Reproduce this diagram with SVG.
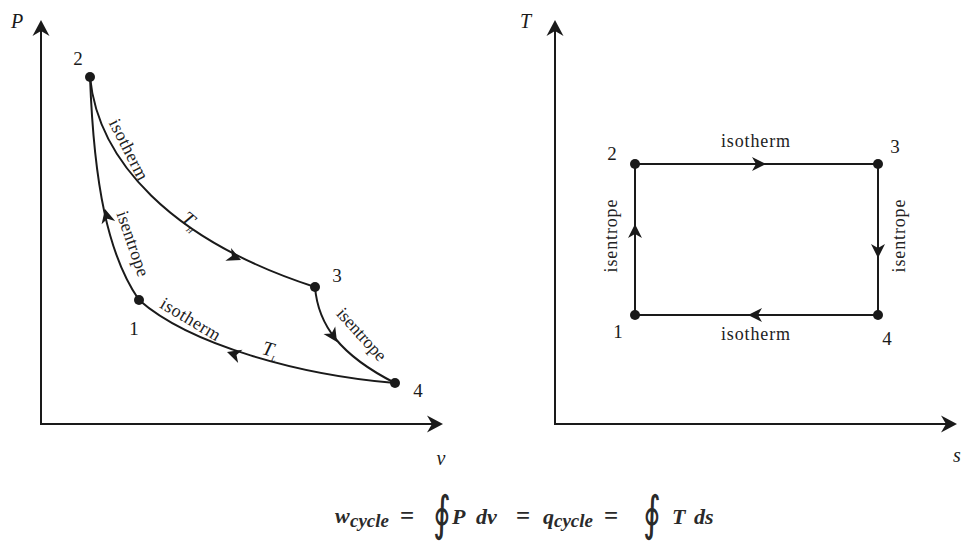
<svg xmlns="http://www.w3.org/2000/svg" width="964" height="544" viewBox="0 0 964 544">
<style>
.ax{fill:none;stroke:#1a1a1a;stroke-width:2}
.cv{fill:none;stroke:#1a1a1a;stroke-width:2}
.dot{fill:#1a1a1a}
.ah{fill:#1a1a1a}
text{font-family:"Liberation Serif","Times New Roman",serif}
.lbl{font-size:19px;fill:#1a1a1a}
.sm{font-size:18px;fill:#222}
.it{font-style:italic;font-size:20px;fill:#1a1a1a}
.eq{font-style:italic;font-weight:bold;fill:#2a2a2a}
.op{font-style:normal;font-size:25px}
.sub{font-size:19px}
.int{font-family:"DejaVu Serif",serif;font-size:34px;fill:#2a2a2a}
</style>
<defs>
<path id="axh" d="M0,0 L-16,-8.5 L-11,0 L-16,8.5 Z"/>
<path id="cah" d="M0,0 L-14,-7 L-10,0 L-14,7 Z"/>
</defs>

<g id="axes">
<line class="ax" x1="41" y1="424" x2="41" y2="26"/>
<line class="ax" x1="40" y1="424" x2="437" y2="424"/>
<use href="#axh" class="ah" transform="translate(41,20) rotate(-90)"/>
<use href="#axh" class="ah" transform="translate(443,424)"/>
<line class="ax" x1="555" y1="424" x2="555" y2="26"/>
<line class="ax" x1="554" y1="424" x2="951" y2="424"/>
<use href="#axh" class="ah" transform="translate(555,20) rotate(-90)"/>
<use href="#axh" class="ah" transform="translate(957,424)"/>
<text class="it" x="11" y="28">P</text>
<text class="it" x="441" y="465" text-anchor="middle">v</text>
<text class="it" x="520" y="28">T</text>
<text class="it" x="953" y="462">s</text>
</g>

<g id="connectors">
<path id="c23" class="cv" d="M90,77 C98,160 170,240 315,287"/>
<path id="c12" class="cv" d="M90,77 C94,185 108,255 139,300"/>
<path id="c34" class="cv" d="M315,287 C318,325 340,355 395,383"/>
<path id="c41" class="cv" d="M395,383 C300,375 190,345 139,300"/>
<use href="#cah" class="ah" transform="translate(241,260) rotate(24)"/>
<use href="#cah" class="ah" transform="translate(105,209) rotate(-104)"/>
<use href="#cah" class="ah" transform="translate(337,342) rotate(57)"/>
<use href="#cah" class="ah" transform="translate(227,352) rotate(198)"/>

<line class="cv" x1="635" y1="164" x2="878" y2="164"/>
<line class="cv" x1="878" y1="164" x2="878" y2="315"/>
<line class="cv" x1="878" y1="315" x2="635" y2="315"/>
<line class="cv" x1="635" y1="315" x2="635" y2="164"/>
<use href="#cah" class="ah" transform="translate(766,164)"/>
<use href="#cah" class="ah" transform="translate(878,258) rotate(90)"/>
<use href="#cah" class="ah" transform="translate(748,315) rotate(180)"/>
<use href="#cah" class="ah" transform="translate(635,224) rotate(-90)"/>
</g>

<g id="edge-labels">
<text class="sm" text-anchor="middle" textLength="66" transform="translate(128,150) rotate(63)" y="5">isotherm</text>
<text class="it" text-anchor="middle" transform="translate(190,221) rotate(40)" y="6" font-size="19">T<tspan font-size="8" dy="4">H</tspan></text>
<text class="sm" text-anchor="middle" textLength="68" transform="translate(132,244) rotate(71)" y="5">isentrope</text>
<text class="sm" text-anchor="middle" textLength="67" transform="translate(190,320) rotate(31)" y="5">isotherm</text>
<text class="it" text-anchor="middle" transform="translate(270,350) rotate(15)" y="6" font-size="19">T<tspan font-size="8" dy="4">L</tspan></text>
<text class="sm" text-anchor="middle" textLength="65" transform="translate(361,335) rotate(48)" y="5">isentrope</text>

<text class="sm" x="755.5" y="147" text-anchor="middle" textLength="69">isotherm</text>
<text class="sm" x="755.5" y="340" text-anchor="middle" textLength="69">isotherm</text>
<text class="sm" text-anchor="middle" textLength="73" transform="translate(612,236) rotate(-90)" y="5">isentrope</text>
<text class="sm" text-anchor="middle" textLength="73" transform="translate(900,236) rotate(-90)" y="5">isentrope</text>
</g>

<g id="pv-node-1"><circle class="dot" cx="139" cy="300" r="5"/><text class="lbl" x="134" y="335" text-anchor="middle">1</text></g>
<g id="pv-node-2"><circle class="dot" cx="90" cy="77" r="5"/><text class="lbl" x="78" y="65" text-anchor="middle">2</text></g>
<g id="pv-node-3"><circle class="dot" cx="315" cy="287" r="5"/><text class="lbl" x="337" y="282" text-anchor="middle">3</text></g>
<g id="pv-node-4"><circle class="dot" cx="395" cy="383" r="5"/><text class="lbl" x="418" y="397" text-anchor="middle">4</text></g>

<g id="ts-node-1"><circle class="dot" cx="635" cy="315" r="5"/><text class="lbl" x="618" y="338" text-anchor="middle">1</text></g>
<g id="ts-node-2"><circle class="dot" cx="635" cy="164" r="5"/><text class="lbl" x="612" y="160" text-anchor="middle">2</text></g>
<g id="ts-node-3"><circle class="dot" cx="878" cy="164" r="5"/><text class="lbl" x="895" y="153" text-anchor="middle">3</text></g>
<g id="ts-node-4"><circle class="dot" cx="878" cy="315" r="5"/><text class="lbl" x="887" y="345" text-anchor="middle">4</text></g>

<g id="equation">
<text class="eq" font-size="22" y="523"><tspan x="335">w</tspan><tspan class="sub" x="350" y="527">cycle</tspan><tspan class="op" x="400" y="524">=</tspan><tspan x="452">P</tspan><tspan x="476">dv</tspan><tspan class="op" x="516" y="524">=</tspan><tspan x="543">q</tspan><tspan class="sub" x="554" y="527">cycle</tspan><tspan class="op" x="604" y="524">=</tspan><tspan x="672">T</tspan><tspan x="694">ds</tspan></text>
<text class="int" transform="translate(433,530) scale(1,1.4)">∮</text>
<text class="int" transform="translate(643,530) scale(1,1.4)">∮</text>
</g>
</svg>
